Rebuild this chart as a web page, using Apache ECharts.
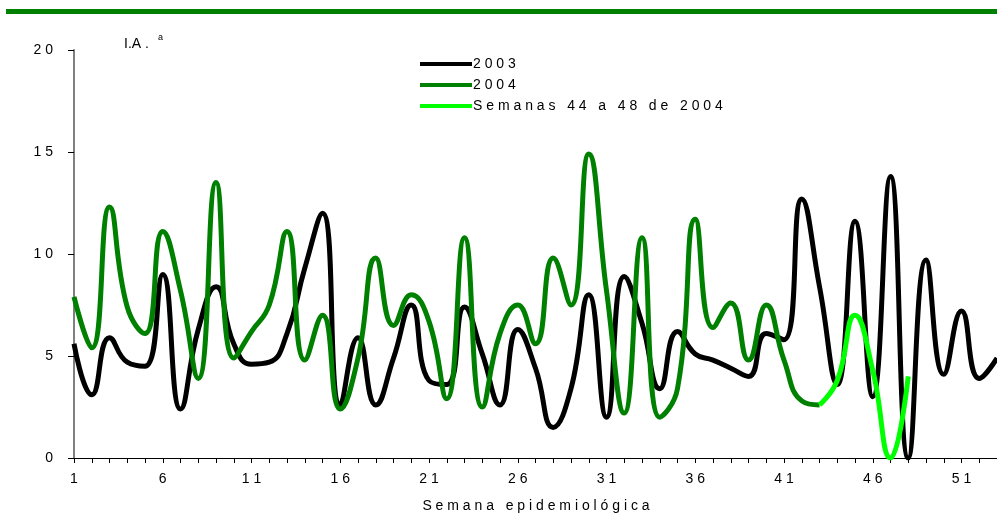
<!DOCTYPE html>
<html>
<head>
<meta charset="utf-8">
<script src="https://cdn.jsdelivr.net/npm/echarts@6/dist/echarts.min.js"></script>
<style>
html, body { margin: 0; padding: 0; background: #fff; }
#main { width: 997px; height: 513px; }
</style>
</head>
<body>
<div id="main"></div>
<script>
// semanas epidemiológicas 1..53
var semanas = ['1','2','3','4','5','6','7','8','9','10','11','12','13','14','15','16','17','18','19','20',
	'21','22','23','24','25','26','27','28','29','30','31','32','33','34','35','36','37','38','39','40',
	'41','42','43','44','45','46','47','48','49','50','51','52','53'];

// I.A. 2003
var datos2003 = [5.6, 3.1, 5.9, 4.7, 4.5, 9.0, 2.4, 6.3, 8.4, 5.6,
	4.6, 4.7, 6.1, 9.3, 12.0, 2.6, 5.9, 2.6, 4.9, 7.5,
	3.8, 3.6, 7.4, 5.1, 2.6, 6.3, 4.4, 1.5, 3.4, 8.0,
	2.0, 8.9, 6.6, 3.4, 6.2, 5.1, 4.8, 4.4, 4.0, 6.1,
	5.8, 12.7, 8.4, 3.6, 11.6, 3.0, 13.8, 0, 9.7, 4.1,
	7.2, 3.9, 4.9];

// I.A. 2004 (hasta semana 43)
var datos2004 = [7.9, 5.4, 12.3, 7.4, 6.1, 11.1, 8.2, 3.9, 13.5, 4.9,
	6.2, 7.5, 11.1, 4.8, 7.0, 2.4, 4.9, 9.8, 6.5, 8.0,
	6.7, 2.9, 10.8, 2.5, 6.1, 7.5, 5.6, 9.8, 7.5, 14.9,
	8.2, 2.2, 10.8, 2.0, 3.4, 11.7, 6.4, 7.6, 4.8, 7.5,
	4.8, 2.8, 2.6];

// semanas 43..48 de 2004
var semanasFinal = ['43','44','45','46','47','48'];
var datosFinal = [2.6, 3.8, 7.0, 4.3, 0, 4.0];

var yTicks = [0, 5, 10, 15, 20];

function espaciar(s) {
	return s.split('').join(' ');
}

function alinear(valores, cats) {
	var out = [];
	for (var i = 0; i < semanas.length; i++) {
		var k = cats ? cats.indexOf(semanas[i]) : i;
		out.push(k >= 0 && k < valores.length ? valores[k] : null);
	}
	return out;
}

var fuente = 'Liberation Sans';
var myChart = echarts.init(document.getElementById('main'));

var option = {
	animation: false,
	textStyle: { fontFamily: fuente },
	grid: { left: 74, right: 0, top: 50, bottom: 55, containLabel: false, outerBoundsMode: 'none' },
	legend: {
		orient: 'vertical',
		left: 415,
		top: 52,
		itemWidth: 52,
		itemHeight: 4,
		itemGap: 7,
		icon: 'rect',
		textStyle: { fontFamily: fuente, fontSize: 14, color: '#000', padding: [0, 0, 0, -4] },
		formatter: function (n) { return espaciar(n); },
		data: ['2003', '2004', 'Semanas 44 a 48 de 2004']
	},
	xAxis: {
		type: 'category',
		boundaryGap: false,
		data: semanas,
		axisLine: { lineStyle: { color: '#000', width: 1 } },
		axisTick: { interval: 0, length: 5, lineStyle: { color: '#000' } },
		axisLabel: {
			interval: 4,
			margin: 14,
			fontSize: 14,
			color: '#000',
			formatter: function (v) { return espaciar(v); }
		},
		splitLine: { show: false }
	},
	yAxis: {
		type: 'value',
		min: yTicks[0],
		max: yTicks[yTicks.length - 1],
		interval: 5,
		axisLine: { show: true, lineStyle: { color: '#808080', width: 2 } },
		axisTick: { show: true, length: 6, lineStyle: { color: '#000' } },
		axisLabel: {
			margin: 21,
			fontSize: 14,
			color: '#000',
			formatter: function (v) { return espaciar(String(v)); }
		},
		splitLine: { show: false }
	},
	graphic: [
		{ type: 'rect', left: 6, top: 9, shape: { width: 991, height: 5 }, style: { fill: '#008000' } },
		{ type: 'text', left: 124, top: 37, style: { text: 'I.A .', font: '14px ' + fuente, fill: '#000' } },
		{ type: 'text', left: 158, top: 33, style: { text: 'a', font: '9px ' + fuente, fill: '#000' } },
		{ type: 'text', x: 536, y: 506, style: { text: espaciar('Semana epidemiológica'), font: '14px ' + fuente, fill: '#000', align: 'center', verticalAlign: 'middle' } }
	],
	series: [{
		name: '2003',
		type: 'line',
		smooth: 0.5,
		symbol: 'none',
		lineStyle: { color: '#000', width: 5 },
		itemStyle: { color: '#000' },
		data: alinear(datos2003),
		z: 2
	}, {
		name: '2004',
		type: 'line',
		smooth: 0.5,
		symbol: 'none',
		lineStyle: { color: '#008000', width: 5 },
		itemStyle: { color: '#008000' },
		data: alinear(datos2004),
		z: 3
	}, {
		name: 'Semanas 44 a 48 de 2004',
		type: 'line',
		smooth: 0.5,
		symbol: 'none',
		lineStyle: { color: '#00ff00', width: 5 },
		itemStyle: { color: '#00ff00' },
		data: alinear(datosFinal, semanasFinal),
		z: 4
	}]
};

myChart.setOption(option);
</script>
</body>
</html>
